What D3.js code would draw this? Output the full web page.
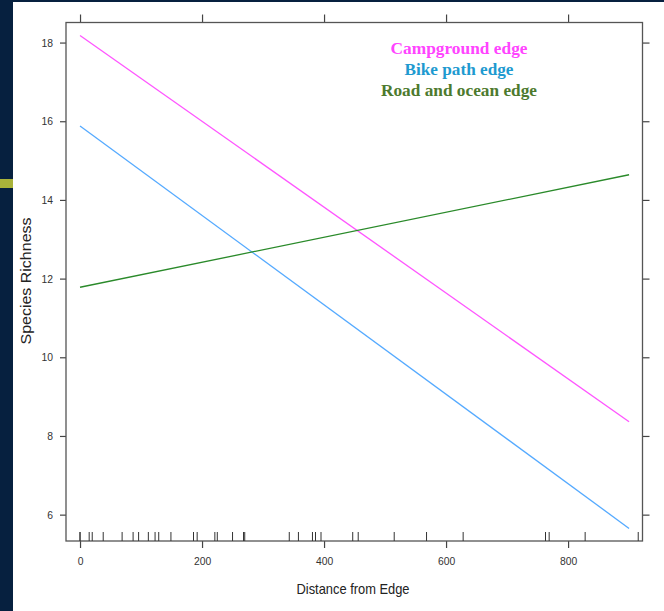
<!DOCTYPE html>
<html>
<head>
<meta charset="utf-8">
<script src="https://cdn.jsdelivr.net/npm/d3@7"></script>
<style>
  html, body { margin: 0; padding: 0; background: #06203f; }
  svg { display: block; }
</style>
</head>
<body>
<svg></svg>
<script>
// chart data
const groups = ["Campground edge", "Bike path edge", "Road and ocean edge"];
const lineColors = ["#ff55ff", "#55aaff", "#2a8a2a"];
const textColors = ["#ff44ff", "#1e9ad0", "#4d7a2e"];
const xEnds = [0, 900];
const campground = [18.18, 8.36];
const bikePath = [15.88, 5.65];
const roadOcean = [11.78, 14.64];
const rug = [0, 0, 15, 20, 38, 69, 87, 96, 112, 123, 129, 149, 186, 192, 221, 225, 250, 268, 270,
  343, 358, 381, 386, 395, 447, 456, 515, 568, 628, 763, 769, 828, 915];
const xTicks = [0, 200, 400, 600, 800];
const yTicks = [6, 8, 10, 12, 14, 16, 18];

const width = 664, height = 611;
const svg = d3.select("svg")
  .attr("width", width)
  .attr("height", height);

// white panel and the small accent bar at left
svg.append("rect").attr("x", 13).attr("y", 2).attr("width", width - 13).attr("height", height - 2)
  .attr("fill", "#ffffff");
svg.append("rect").attr("x", 0).attr("y", 179).attr("width", 13).attr("height", 9)
  .attr("fill", "#a9b33a");

const box = { left: 66, right: 642.5, top: 22.5, bottom: 541 };

const x = d3.scaleLinear()
  .domain([-23, 922])
  .range([box.left, box.right]);

const y = d3.scaleLinear()
  .domain([5.33, 18.51])
  .range([box.bottom, box.top]);

const axisColor = "#444";
const labelFont = "'Liberation Sans', Arial, sans-serif";

// ticks: labelled bottom/left, bare top/right
const axBottom = svg.append("g").attr("transform", `translate(0,${box.bottom})`)
  .call(d3.axisBottom(x).tickValues(xTicks).tickSize(7).tickPadding(9));
const axTop = svg.append("g").attr("transform", `translate(0,${box.top})`)
  .call(d3.axisTop(x).tickValues(xTicks).tickSize(8).tickFormat(""));
const axLeft = svg.append("g").attr("transform", `translate(${box.left},0)`)
  .call(d3.axisLeft(y).tickValues(yTicks).tickSize(6).tickPadding(7));
const axRight = svg.append("g").attr("transform", `translate(${box.right},0)`)
  .call(d3.axisRight(y).tickValues(yTicks).tickSize(7).tickFormat(""));

[axBottom, axTop, axLeft, axRight].forEach(g => {
  g.select(".domain").remove();
  g.selectAll(".tick line").attr("stroke", axisColor).attr("stroke-width", 1.2);
  g.selectAll("text").attr("fill", "#333").attr("font-size", 11.5).attr("font-family", labelFont)
    .attr("transform", "scale(0.9,1)")
    .attr("x", function() { return +d3.select(this).attr("x") / 0.9; });
});

// frame
svg.append("rect")
  .attr("x", box.left).attr("y", box.top)
  .attr("width", box.right - box.left).attr("height", box.bottom - box.top)
  .attr("fill", "none").attr("stroke", "#555").attr("stroke-width", 1.3);

// rug along the bottom
svg.append("g").selectAll("line")
  .data(rug)
  .join("line")
  .attr("x1", d => x(d)).attr("x2", d => x(d))
  .attr("y1", box.bottom).attr("y2", box.bottom - 9)
  .attr("stroke", "#333").attr("stroke-width", 1);

// fitted lines
const series = [campground, bikePath, roadOcean];
const line = d3.line()
  .x(d => x(d[0]))
  .y(d => y(d[1]));

series.forEach((vals, i) => {
  svg.append("path")
    .datum(xEnds.map((xv, j) => [xv, vals[j]]))
    .attr("d", line)
    .attr("fill", "none")
    .attr("stroke", lineColors[i])
    .attr("stroke-width", 1.3);
});

// legend
const legendWidths = [137, 109, 156];
svg.append("g").selectAll("text")
  .data(groups)
  .join("text")
  .attr("x", 459)
  .attr("y", (d, i) => 53.5 + i * 21.2)
  .attr("text-anchor", "middle")
  .attr("font-family", "'Liberation Serif', 'Times New Roman', serif")
  .attr("font-weight", "bold")
  .attr("font-size", 16.5)
  .attr("textLength", (d, i) => legendWidths[i])
  .attr("lengthAdjust", "spacingAndGlyphs")
  .attr("fill", (d, i) => textColors[i])
  .text(d => d);

// axis titles
svg.append("text")
  .attr("x", 353).attr("y", 594)
  .attr("text-anchor", "middle")
  .attr("font-family", labelFont)
  .attr("font-size", 14.5)
  .attr("textLength", 113)
  .attr("lengthAdjust", "spacingAndGlyphs")
  .attr("fill", "#222")
  .text("Distance from Edge");

svg.append("text")
  .attr("transform", `translate(31,281) rotate(-90)`)
  .attr("text-anchor", "middle")
  .attr("font-family", labelFont)
  .attr("font-size", 14.5)
  .attr("textLength", 127)
  .attr("lengthAdjust", "spacingAndGlyphs")
  .attr("fill", "#222")
  .text("Species Richness");
</script>
</body>
</html>
